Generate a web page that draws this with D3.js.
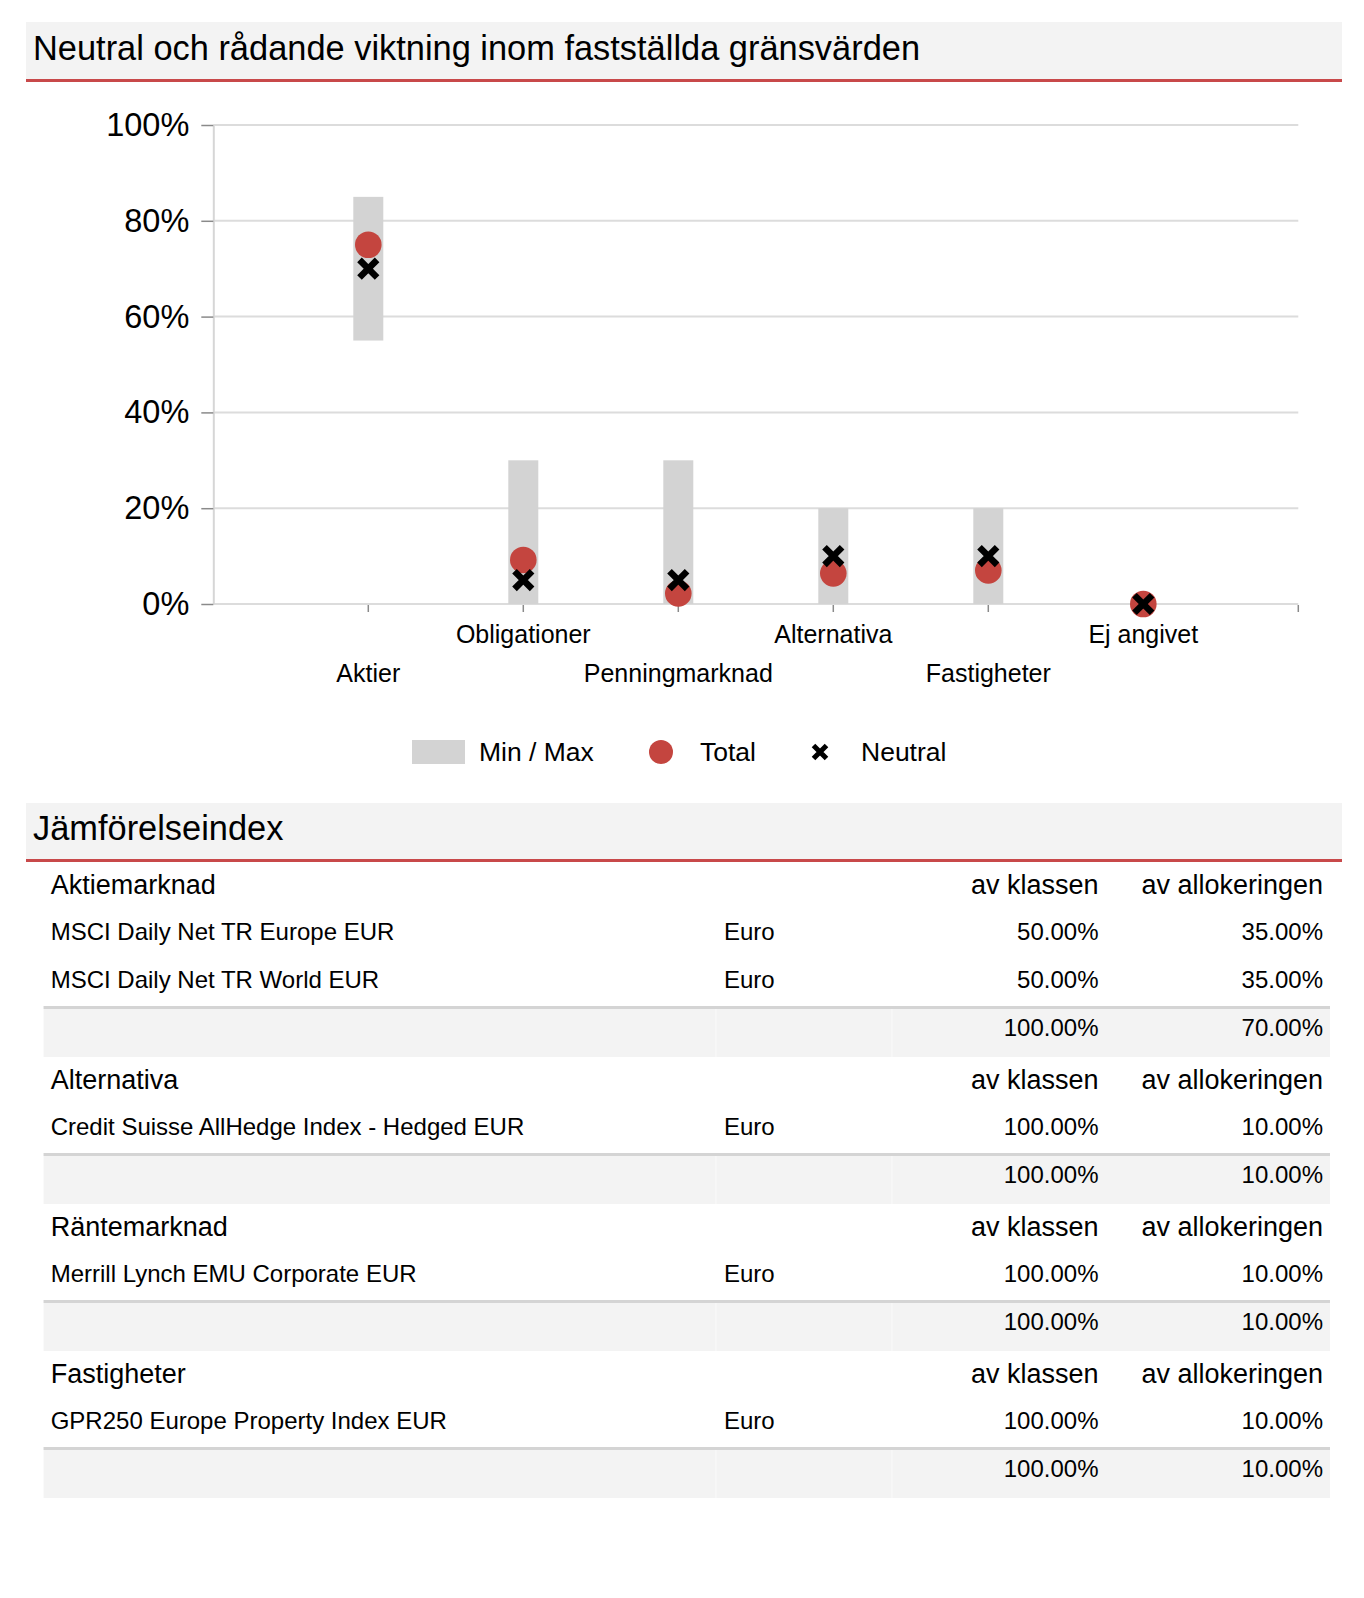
<!DOCTYPE html>
<html>
<head>
<meta charset="utf-8">
<script src="https://cdn.jsdelivr.net/npm/d3@7"></script>
<style>
  html, body { margin: 0; padding: 0; background: #fff; }
  svg { display: block; font-family: "Liberation Sans", Arial, Helvetica, sans-serif; }
</style>
</head>
<body>
<svg id="chart" width="1364" height="1598"></svg>
<script>
// ---------- Data ----------
const chartTitle = "Neutral och rådande viktning inom fastställda gränsvärden";
const categories = ["Aktier", "Obligationer", "Penningmarknad", "Alternativa", "Fastigheter", "Ej angivet"];
const minVals = [55, 0, 0, 0, 0, 0];
const maxVals = [85, 30, 30, 20, 20, 0];
const totalVals = [75, 9.2, 2.2, 6.4, 7, 0];
const neutralVals = [70, 5, 5, 10, 10, 0];
const yTicks = [0, 20, 40, 60, 80, 100];
const legendLabels = ["Min / Max", "Total", "Neutral"];

const tableTitle = "Jämförelseindex";
const groupNames = ["Aktiemarknad", "Alternativa", "Räntemarknad", "Fastigheter"];
const colHeaders = ["av klassen", "av allokeringen"];
const indexNames = ["MSCI Daily Net TR Europe EUR", "MSCI Daily Net TR World EUR", "Credit Suisse AllHedge Index - Hedged EUR", "Merrill Lynch EMU Corporate EUR", "GPR250 Europe Property Index EUR"];
const indexGroup = [0, 0, 1, 2, 3];
const indexCurrency = ["Euro", "Euro", "Euro", "Euro", "Euro"];
const shareOfClass = [50, 50, 100, 100, 100];
const shareOfAllocation = [35, 35, 10, 10, 10];

// ---------- Styles ----------
const RED = "#c4453f";
const BAR = "#d3d3d3";
const GRID = "#dcdcdc";
const HEAD_BG = "#f3f3f3";

const svg = d3.select("#chart");

// Section header helper
function sectionHeader(y0, h, text) {
  svg.append("rect").attr("x", 26).attr("y", y0).attr("width", 1316).attr("height", h).attr("fill", HEAD_BG);
  svg.append("rect").attr("x", 26).attr("y", y0 + h).attr("width", 1316).attr("height", 3).attr("fill", "#c8494a");
  svg.append("text").attr("x", 33).attr("y", y0 + h - 19).attr("font-size", 34.4).attr("fill", "#000").text(text);
}
sectionHeader(22, 57, chartTitle);

// ---------- Chart ----------
const y = d3.scaleLinear().domain([0, 100]).range([604, 125]);
const x = d3.scalePoint().domain(categories).range([213.3, 1298.3]).padding(1);
const xL = x.range()[0], xR = x.range()[1];

const g = svg.append("g");

// gridlines
g.selectAll("line.grid").data(yTicks).join("line")
  .attr("class", "grid")
  .attr("x1", xL).attr("x2", xR)
  .attr("y1", d => y(d)).attr("y2", d => y(d))
  .attr("stroke", GRID).attr("stroke-width", 2);

// y axis
const yAxis = d3.axisLeft(y).tickValues(yTicks).tickFormat(d => d + "%").tickSize(12).tickSizeOuter(0).tickPadding(12);
const ya = g.append("g").attr("transform", `translate(${xL},0)`).call(yAxis);
ya.select(".domain").attr("stroke", "#d6d6d6").attr("stroke-width", 2);
ya.selectAll(".tick line").attr("stroke", "#8a8a8a").attr("stroke-width", 1.5);
ya.selectAll(".tick text").attr("font-size", 32.5).attr("fill", "#000")
  .attr("font-family", '"Liberation Sans", Arial, sans-serif');

// x ticks (categories + range end)
const xTickPos = categories.map(c => x(c)).concat([xR]);
g.selectAll("line.xtick").data(xTickPos).join("line")
  .attr("class", "xtick")
  .attr("x1", d => d).attr("x2", d => d)
  .attr("y1", y(0) + 1).attr("y2", y(0) + 8)
  .attr("stroke", "#8a8a8a").attr("stroke-width", 1.5);

// x labels, alternating rows
g.selectAll("text.xlab").data(categories).join("text")
  .attr("class", "xlab")
  .attr("x", d => x(d))
  .attr("y", (d, i) => i % 2 === 1 ? 643 : 682)
  .attr("text-anchor", "middle")
  .attr("font-size", 25)
  .attr("fill", "#000")
  .text(d => d);

// bars (min/max)
const barW = 30;
g.selectAll("rect.bar").data(categories).join("rect")
  .attr("class", "bar")
  .attr("x", d => x(d) - barW / 2)
  .attr("width", barW)
  .attr("y", (d, i) => y(maxVals[i]))
  .attr("height", (d, i) => y(minVals[i]) - y(maxVals[i]))
  .attr("fill", BAR);

// total circles
g.selectAll("circle.total").data(categories).join("circle")
  .attr("class", "total")
  .attr("cx", d => x(d))
  .attr("cy", (d, i) => y(totalVals[i]))
  .attr("r", 13.3)
  .attr("fill", RED);

// neutral crosses
function crossPath(d) {
  return `M${-d},${-d}L${d},${d}M${-d},${d}L${d},${-d}`;
}
g.selectAll("path.neutral").data(categories).join("path")
  .attr("class", "neutral")
  .attr("transform", (d, i) => `translate(${x(d)},${y(neutralVals[i])})`)
  .attr("d", crossPath(8.8))
  .attr("stroke", "#000").attr("stroke-width", 6.5).attr("fill", "none");

// legend
const lg = svg.append("g");
lg.append("rect").attr("x", 412).attr("y", 740).attr("width", 53).attr("height", 24).attr("fill", BAR);
lg.append("circle").attr("cx", 661).attr("cy", 752).attr("r", 12).attr("fill", RED);
lg.append("path").attr("transform", "translate(820,752)").attr("d", crossPath(6.5))
  .attr("stroke", "#000").attr("stroke-width", 5).attr("fill", "none");
const legendX = [479, 700, 861];
lg.selectAll("text").data(legendLabels).join("text")
  .attr("x", (d, i) => legendX[i]).attr("y", 761)
  .attr("font-size", 26.5).attr("fill", "#000")
  .text(d => d);

// ---------- Table ----------
sectionHeader(803, 56, tableTitle);

const tX0 = 43.6, tX1 = 1330;
const colText = 50.7, colCur = 724, colClass = 1098.5, colAlloc = 1323;
const colSep = [716, 892];
const rowH = 48;
let cy = 862;
const tg = svg.append("g");

groupNames.forEach((gname, gi) => {
  // header row
  const hy = cy + rowH / 2 + 8;
  tg.append("text").attr("x", colText).attr("y", hy).attr("font-size", 27).text(gname);
  tg.append("text").attr("x", colClass).attr("y", hy).attr("font-size", 27).attr("text-anchor", "end").text(colHeaders[0]);
  tg.append("text").attr("x", colAlloc).attr("y", hy).attr("font-size", 27).attr("text-anchor", "end").text(colHeaders[1]);
  cy += rowH;
  let sumClass = 0, sumAlloc = 0;
  indexNames.forEach((nm, i) => {
    if (indexGroup[i] !== gi) return;
    const ty = cy + rowH / 2 + 6;
    tg.append("text").attr("x", colText).attr("y", ty).attr("font-size", 24).text(nm);
    tg.append("text").attr("x", colCur).attr("y", ty).attr("font-size", 24).text(indexCurrency[i]);
    tg.append("text").attr("x", colClass).attr("y", ty).attr("font-size", 24).attr("text-anchor", "end").text(shareOfClass[i].toFixed(2) + "%");
    tg.append("text").attr("x", colAlloc).attr("y", ty).attr("font-size", 24).attr("text-anchor", "end").text(shareOfAllocation[i].toFixed(2) + "%");
    sumClass += shareOfClass[i];
    sumAlloc += shareOfAllocation[i];
    cy += rowH;
  });
  // total row
  tg.append("rect").attr("x", tX0).attr("y", cy).attr("width", tX1 - tX0).attr("height", rowH + 3).attr("fill", HEAD_BG);
  colSep.forEach(cx => {
    tg.append("line").attr("x1", cx).attr("x2", cx).attr("y1", cy + 3).attr("y2", cy + rowH + 3)
      .attr("stroke", "#fafafa").attr("stroke-width", 1);
  });
  tg.append("rect").attr("x", tX0).attr("y", cy).attr("width", tX1 - tX0).attr("height", 3).attr("fill", "#d4d4d4");
  const sy = cy + 3 + rowH / 2 + 3;
  tg.append("text").attr("x", colClass).attr("y", sy).attr("font-size", 24).attr("text-anchor", "end").text(sumClass.toFixed(2) + "%");
  tg.append("text").attr("x", colAlloc).attr("y", sy).attr("font-size", 24).attr("text-anchor", "end").text(sumAlloc.toFixed(2) + "%");
  cy += rowH + 3;
});
</script>
</body>
</html>
